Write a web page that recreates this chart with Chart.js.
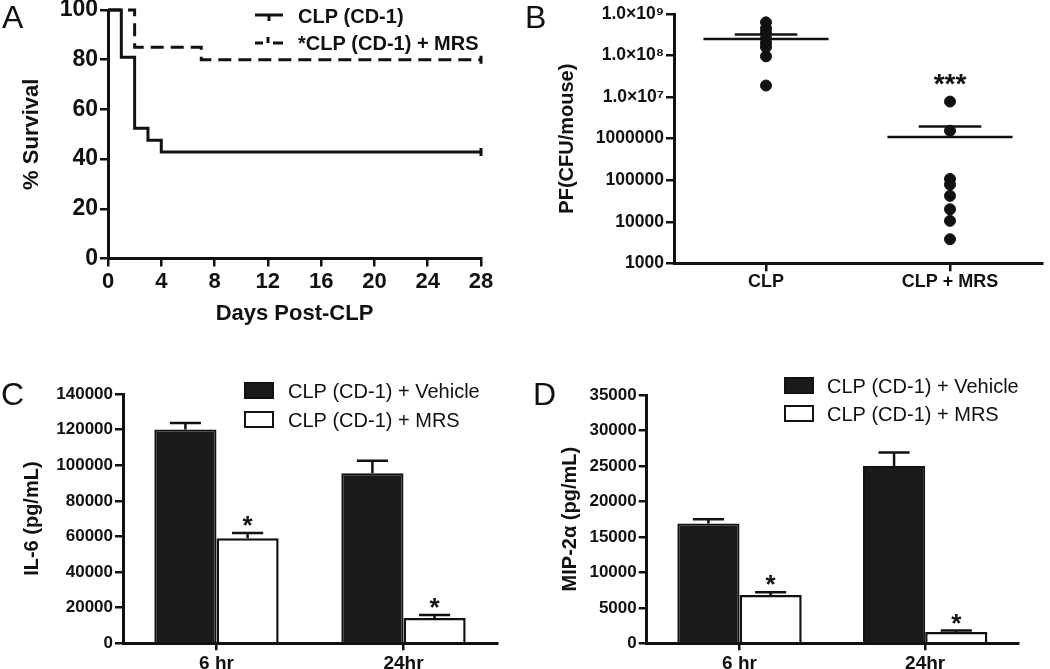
<!DOCTYPE html>
<html lang="en">
<head>
<meta charset="utf-8">
<title>CLP survival, bacterial load and cytokines</title>
<script src="https://cdn.jsdelivr.net/npm/chart.js@4.4.0/dist/chart.umd.min.js"></script>
<style>
  html, body { margin: 0; padding: 0; background: #fff; overflow: hidden; }
  body { width: 1050px; height: 669px; position: relative; }
  canvas { position: absolute; }
  #panelA { left: 0; top: 0; }
  #panelB { left: 520px; top: 0; }
  #panelC { left: 0; top: 330px; }
  #panelD { left: 520px; top: 330px; }
</style>
</head>
<body>
<canvas id="panelA" width="520" height="330"></canvas>
<canvas id="panelB" width="530" height="330"></canvas>
<canvas id="panelC" width="520" height="360"></canvas>
<canvas id="panelD" width="530" height="360"></canvas>

<script>
  // ---- data ----
  // A: survival (%) by day
  const survDaysCLP = [0, 1, 2, 3, 4, 28];
  const survCLP = [100, 81, 52.4, 47.6, 42.9, 42.9];
  const survDaysMRS = [0, 2, 7, 28];
  const survMRS = [100, 85, 80, 80];

  // B: peritoneal fluid CFU per mouse
  const cfuGroups = ['CLP', 'CLP + MRS'];
  const cfuCLP = [6.3e8, 4.5e8, 3.5e8, 2.6e8, 2.0e8, 1.6e8, 9.6e7, 1.9e7];
  const cfuMRS = [7.8e6, 1.55e6, 1.07e5, 7.8e4, 4.2e4, 2.0e4, 1.05e4, 3.8e3];
  const cfuMean = [2.5e8, 1.1e6];
  const cfuSemTop = [3.2e8, 1.95e6];
  const cfuTickValues = [1e3, 1e4, 1e5, 1e6, 1e7, 1e8, 1e9];
  const cfuTickLabels = ['1000', '10000', '100000', '1000000', '1.0\u00d710\u2077', '1.0\u00d710\u2078', '1.0\u00d710\u2079'];

  // C, D: cytokines (pg/mL)
  const timeLabels = ['6 hr', '24hr'];
  const il6Vehicle = [120000, 95500];
  const il6VehicleErr = [3700, 7000];
  const il6MRS = [59000, 14200];
  const il6MRSErr = [3000, 1700];
  const mipVehicle = [16900, 25000];
  const mipVehicleErr = [600, 1900];
  const mipMRS = [6800, 1600];
  const mipMRSErr = [400, 200];
  const sigMarks = ['*', '*'];

  // ---- shared style ----
  const INK = '#111';
  const FONT = "'Liberation Sans', Arial, Helvetica, sans-serif";
  Chart.defaults.font.family = FONT;
  Chart.defaults.color = INK;
  Chart.defaults.animation = false;
  Chart.defaults.plugins.legend.display = false;
  Chart.defaults.plugins.tooltip.enabled = false;

  function fixWidth(w) {
    return s => { s.width = w; s.paddingTop = 0; s.paddingBottom = 0; s.paddingLeft = 0; s.paddingRight = 0; };
  }
  function fixHeight(h) {
    return s => { s.height = h; s.paddingTop = 0; s.paddingBottom = 0; s.paddingLeft = 0; s.paddingRight = 0; };
  }

  function axis(extra) {
    return Object.assign({
      border: { display: true, color: INK, width: 3 },
      grid: { display: true, drawOnChartArea: false, drawTicks: true, tickLength: 8, color: INK, lineWidth: 2.5 }
    }, extra);
  }

  function points(xs, ys) {
    return xs.map((x, i) => ({ x: x, y: ys[i] }));
  }

  // letters, hand-made legends, error bars and asterisks
  function extras(opt) {
    return {
      id: 'extras',
      afterDraw(chart) {
        const ctx = chart.ctx;
        ctx.save();
        ctx.fillStyle = INK;
        ctx.strokeStyle = INK;
        ctx.textAlign = 'left';
        ctx.textBaseline = 'alphabetic';
        ctx.font = '32px ' + FONT;
        ctx.fillText(opt.letter, opt.letterX, opt.letterY);

        if (opt.legend) opt.legend(ctx, chart);

        const y = chart.scales.y;
        chart.data.datasets.forEach((ds, di) => {
          if (!ds.errorBars) return;
          chart.getDatasetMeta(di).data.forEach((bar, i) => {
            const top = y.getPixelForValue(ds.data[i] + ds.errorBars[i]);
            const half = bar.width / 4;
            ctx.lineWidth = 2.5;
            ctx.beginPath();
            ctx.moveTo(bar.x, bar.y);
            ctx.lineTo(bar.x, top);
            ctx.moveTo(bar.x - half, top);
            ctx.lineTo(bar.x + half, top);
            ctx.stroke();
            if (ds.marks && ds.marks[i]) {
              ctx.font = 'bold 26px ' + FONT;
              ctx.textAlign = 'center';
              ctx.fillText(ds.marks[i], bar.x, top - 14 + 15);
            }
          });
        });
        ctx.restore();
      }
    };
  }

  function boxLegend(x0, y1, y2, textX) {
    return (ctx, chart) => {
      const rows = [y1, y2];
      chart.data.datasets.forEach((ds, i) => {
        const top = rows[i];
        ctx.fillStyle = ds.backgroundColor;
        ctx.fillRect(x0, top, 28, 15);
        ctx.lineWidth = 2;
        ctx.strokeStyle = INK;
        ctx.strokeRect(x0, top, 28, 15);
        ctx.fillStyle = INK;
        ctx.font = '20px ' + FONT;
        ctx.textAlign = 'left';
        ctx.fillText(ds.label, textX, top + 15);
      });
    };
  }

  // ---- A: survival ----
  new Chart(document.getElementById('panelA'), {
    type: 'line',
    data: {
      datasets: [
        {
          label: 'CLP (CD-1)',
          data: points(survDaysCLP, survCLP),
          stepped: true,
          borderColor: INK,
          borderWidth: 3,
          pointStyle: 'line',
          rotation: 90,
          pointBorderColor: INK,
          pointBorderWidth: 3,
          pointRadius: c => c.dataIndex === c.dataset.data.length - 1 ? 4 : 0,
          clip: 8
        },
        {
          label: '*CLP (CD-1) + MRS',
          data: points(survDaysMRS, survMRS),
          stepped: true,
          borderColor: INK,
          borderWidth: 3,
          borderDash: [13, 7],
          pointStyle: 'line',
          rotation: 90,
          pointBorderColor: INK,
          pointBorderWidth: 3,
          pointRadius: c => c.dataIndex === c.dataset.data.length - 1 ? 4 : 0,
          clip: 8
        }
      ]
    },
    options: {
      responsive: false,
      layout: { padding: { left: 0, right: 39, top: 10, bottom: 0 } },
      scales: {
        x: axis({
          type: 'linear', min: 0, max: 28,
          ticks: { stepSize: 4, padding: 2, color: INK, font: { size: 22, weight: 'bold' } },
          title: { display: true, text: 'Days Post-CLP', color: INK, font: { size: 22, weight: 'bold' }, padding: { top: 0, bottom: 3 } },
          afterFit: fixHeight(71.5)
        }),
        y: axis({
          type: 'linear', min: 0, max: 100,
          ticks: { stepSize: 20, padding: 2, color: INK, font: { size: 23, weight: 'bold' } },
          title: { display: true, text: '% Survival', color: INK, font: { size: 22, weight: 'bold' }, padding: { top: 19, bottom: 0 } },
          afterFit: fixWidth(108)
        })
      }
    },
    plugins: [extras({
      letter: 'A', letterX: 2, letterY: 28,
      legend: (ctx, chart) => {
        ctx.lineWidth = 3;
        ctx.beginPath();
        ctx.moveTo(255, 15); ctx.lineTo(283, 15);
        ctx.moveTo(269, 15); ctx.lineTo(269, 21);
        ctx.moveTo(255, 43); ctx.lineTo(263, 43);
        ctx.moveTo(273, 43); ctx.lineTo(283, 43);
        ctx.moveTo(268, 43); ctx.lineTo(268, 37);
        ctx.stroke();
        ctx.font = 'bold 20px ' + FONT;
        ctx.fillText(chart.data.datasets[0].label, 298, 23);
        ctx.fillText(chart.data.datasets[1].label, 298, 50);
      }
    })]
  });

  // ---- B: CFU scatter ----
  function segment(x1, x2, y1, y2) {
    return {
      type: 'line', data: [{ x: x1, y: y1 }, { x: x2, y: y2 }],
      showLine: true, borderColor: INK, borderWidth: 2.5, pointRadius: 0
    };
  }
  const cfuLines = [];
  cfuMean.forEach((m, g) => {
    cfuLines.push(segment(g - 0.34, g + 0.34, m, m));
    cfuLines.push(segment(g - 0.17, g + 0.17, cfuSemTop[g], cfuSemTop[g]));
    cfuLines.push(segment(g, g, m, cfuSemTop[g]));
  });

  new Chart(document.getElementById('panelB'), {
    type: 'scatter',
    data: {
      datasets: [
        { label: cfuGroups[0], data: cfuCLP.map(v => ({ x: 0, y: v })), backgroundColor: INK, borderColor: INK, pointRadius: 5.5 },
        { label: cfuGroups[1], data: cfuMRS.map(v => ({ x: 1, y: v })), backgroundColor: INK, borderColor: INK, pointRadius: 5.5, stars: '***' }
      ].concat(cfuLines)
    },
    options: {
      responsive: false,
      layout: { padding: { left: 0, right: 8, top: 14, bottom: 0 } },
      scales: {
        x: axis({
          type: 'linear', min: -0.5, max: 1.5,
          afterBuildTicks: s => { s.ticks = [{ value: 0 }, { value: 1 }]; },
          ticks: { padding: 0, color: INK, font: { size: 18, weight: 'bold' }, callback: (v) => cfuGroups[Math.round(v)] },
          afterFit: fixHeight(66.7)
        }),
        y: axis({
          type: 'logarithmic', min: 1000, max: 1e9,
          afterBuildTicks: s => { s.ticks = cfuTickValues.map(v => ({ value: v })); },
          ticks: { padding: 2, color: INK, font: { size: 17.5, weight: 'bold' }, callback: (v, i) => cfuTickLabels[i] },
          title: { display: true, text: 'PF(CFU/mouse)', color: INK, font: { size: 20, weight: 'bold' }, padding: { top: 35, bottom: 0 } },
          afterFit: fixWidth(154)
        })
      }
    },
    plugins: [extras({
      letter: 'B', letterX: 5, letterY: 28,
      legend: (ctx, chart) => {
        chart.data.datasets.forEach((ds, di) => {
          if (!ds.stars) return;
          const els = chart.getDatasetMeta(di).data;
          const topY = Math.min.apply(null, els.map(e => e.y));
          ctx.font = 'bold 28px ' + FONT;
          ctx.textAlign = 'center';
          ctx.fillText(ds.stars, els[0].x, topY - 25 + 16);
        });
      }
    })]
  });

  // ---- C, D: cytokine bars ----
  function barChart(id, vehicle, vehicleErr, mrs, mrsErr, yMax, yStep, yTitle, geo) {
    return new Chart(document.getElementById(id), {
      type: 'bar',
      data: {
        labels: timeLabels,
        datasets: [
          {
            label: 'CLP (CD-1) + Vehicle', data: vehicle, errorBars: vehicleErr,
            backgroundColor: '#1a1a1a', borderColor: INK, borderWidth: 2,
            categoryPercentage: geo.cat, barPercentage: 1
          },
          {
            label: 'CLP (CD-1) + MRS', data: mrs, errorBars: mrsErr, marks: sigMarks,
            backgroundColor: '#fff', borderColor: INK, borderWidth: 2.5,
            categoryPercentage: geo.cat, barPercentage: 1
          }
        ]
      },
      options: {
        responsive: false,
        layout: { padding: { left: 0, right: geo.right, top: geo.top, bottom: 0 } },
        scales: {
          x: axis({
            type: 'category', offset: true,
            grid: { display: true, offset: false, drawOnChartArea: false, drawTicks: true, tickLength: 7, color: INK, lineWidth: 2.5 },
            ticks: { padding: 2, color: INK, font: { size: 19, weight: 'bold' } },
            afterFit: fixHeight(46.7)
          }),
          y: axis({
            type: 'linear', min: 0, max: yMax,
            ticks: { stepSize: yStep, padding: 2, color: INK, font: { size: 17, weight: 'bold' }, callback: v => String(v) },
            title: { display: true, text: yTitle, color: INK, font: { size: 20, weight: 'bold' }, padding: { top: geo.titlePad, bottom: 0 } },
            afterFit: fixWidth(geo.left)
          })
        }
      },
      plugins: [extras({
        letter: geo.letter, letterX: geo.letterX, letterY: 75,
        legend: boxLegend(geo.lx, geo.ly1, geo.ly2, geo.tx)
      })]
    });
  }

  barChart('panelC', il6Vehicle, il6VehicleErr, il6MRS, il6MRSErr, 140000, 20000, 'IL-6 (pg/mL)',
    { cat: 0.665, right: 23, top: 64, left: 123, titlePad: 20, letter: 'C', letterX: 1, lx: 245, ly1: 53, ly2: 82, tx: 288 });

  barChart('panelD', mipVehicle, mipVehicleErr, mipMRS, mipMRSErr, 35000, 5000, 'MIP-2\u03b1 (pg/mL)',
    { cat: 0.67, right: 32, top: 65, left: 126.7, titlePad: 38, letter: 'D', letterX: 13, lx: 265, ly1: 48, ly2: 76, tx: 307 });
</script>
</body>
</html>
